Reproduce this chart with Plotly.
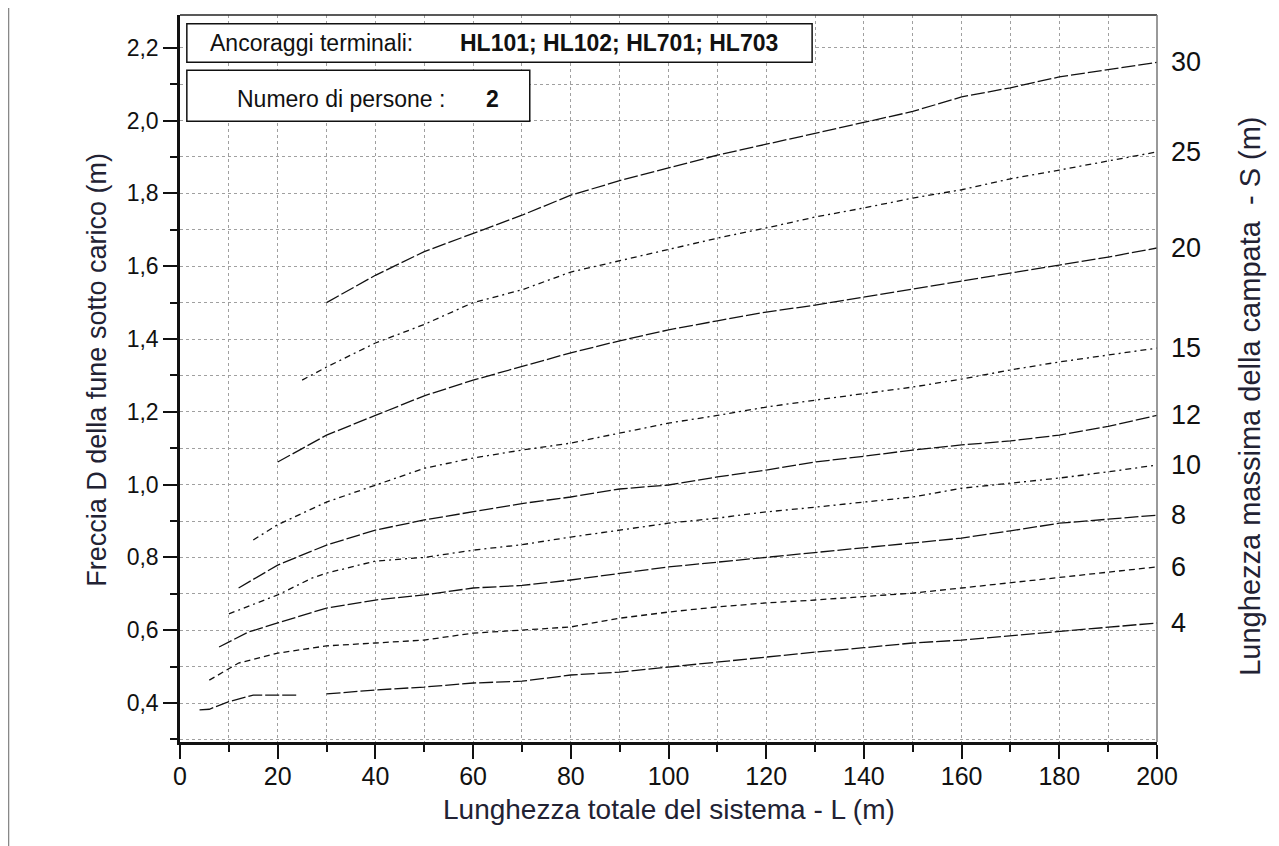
import plotly.graph_objects as go

# ---- data ----
L_4 = [4, 6, 10, 15, 20, 24, 27, 30, 40, 50, 60, 70, 80, 90, 100, 110, 120, 130, 140, 150, 160, 170, 180, 190, 200]
D_4 = [0.381, 0.383, 0.404, 0.422, 0.422, 0.422, None, 0.425, 0.436, 0.444, 0.455, 0.460, 0.477, 0.485, 0.499,
       0.513, 0.526, 0.540, 0.552, 0.565, 0.573, 0.585, 0.595, 0.607, 0.620]

L_6 = [6, 12, 20, 30, 40, 50, 60, 70, 80, 90, 100, 110, 120, 130, 140, 150, 160, 170, 180, 190, 200]
D_6 = [0.463, 0.510, 0.537, 0.557, 0.565, 0.573, 0.592, 0.600, 0.609, 0.633, 0.650, 0.664, 0.675, 0.683,
       0.692, 0.702, 0.716, 0.730, 0.746, 0.760, 0.774]

L_8 = [8, 14, 20, 30, 40, 50, 60, 70, 80, 90, 100, 110, 120, 130, 140, 150, 160, 170, 180, 190, 200]
D_8 = [0.554, 0.595, 0.620, 0.661, 0.683, 0.697, 0.716, 0.723, 0.738, 0.757, 0.774, 0.787, 0.800, 0.812,
       0.826, 0.840, 0.853, 0.873, 0.894, 0.905, 0.916]

L_10 = [10, 20, 27, 30, 40, 50, 60, 70, 80, 90, 100, 110, 120, 130, 140, 150, 160, 170, 180, 190, 200]
D_10 = [0.645, 0.697, 0.743, 0.757, 0.790, 0.800, 0.820, 0.835, 0.856, 0.875, 0.894, 0.908, 0.925, 0.938,
        0.952, 0.966, 0.990, 1.003, 1.018, 1.035, 1.054]

L_12 = [12, 20, 30, 40, 50, 60, 70, 80, 90, 100, 110, 120, 130, 140, 150, 160, 170, 180, 190, 200]
D_12 = [0.716, 0.779, 0.834, 0.875, 0.903, 0.925, 0.948, 0.966, 0.988, 0.999, 1.021, 1.040, 1.062, 1.078,
        1.095, 1.109, 1.120, 1.136, 1.160, 1.190]

L_15 = [15, 20, 30, 40, 50, 60, 70, 80, 90, 100, 110, 120, 130, 140, 150, 160, 170, 180, 190, 200]
D_15 = [0.848, 0.890, 0.952, 0.998, 1.045, 1.073, 1.095, 1.114, 1.142, 1.169, 1.190, 1.213, 1.232, 1.250,
        1.268, 1.290, 1.315, 1.337, 1.355, 1.375]

L_20 = [20, 30, 40, 50, 60, 70, 80, 90, 100, 110, 120, 130, 140, 150, 160, 170, 180, 190, 200]
D_20 = [1.062, 1.136, 1.190, 1.244, 1.287, 1.325, 1.362, 1.395, 1.425, 1.450, 1.474, 1.493, 1.515, 1.535,
        1.557, 1.580, 1.603, 1.625, 1.650]

L_25 = [25, 30, 40, 50, 60, 70, 80, 90, 100, 110, 120, 130, 140, 150, 160, 170, 180, 190, 200]
D_25 = [1.287, 1.323, 1.389, 1.440, 1.500, 1.535, 1.584, 1.615, 1.644, 1.677, 1.705, 1.735, 1.760, 1.787,
        1.810, 1.840, 1.864, 1.890, 1.914]

L_30 = [30, 40, 50, 60, 70, 80, 90, 100, 110, 120, 130, 140, 150, 160, 170, 180, 190, 200]
D_30 = [1.500, 1.575, 1.640, 1.690, 1.740, 1.795, 1.835, 1.870, 1.905, 1.935, 1.965, 1.995, 2.025, 2.065,
        2.090, 2.120, 2.140, 2.160]

S_labels = ["4", "6", "8", "10", "12", "15", "20", "25", "30"]
series_L = [L_4, L_6, L_8, L_10, L_12, L_15, L_20, L_25, L_30]
series_D = [D_4, D_6, D_8, D_10, D_12, D_15, D_20, D_25, D_30]

x_title = "Lunghezza totale del sistema - L (m)"
y_title = "Freccia D della fune sotto carico (m)"
y2_title = "Lunghezza massima della campata  - S (m)"
box1_label = "Ancoraggi terminali:"
box1_value = "HL101; HL102; HL701; HL703"
box2_label = "Numero di persone :"
box2_value = "2"

# ---- styles ----
LONG = "14px,3px"
DASHDOT = "6px,4px,2px,4px"
dash_styles = [LONG, "6px,4px", LONG, DASHDOT, LONG, DASHDOT, LONG, DASHDOT, LONG]
FONT = "Liberation Sans, Arial, sans-serif"
GRID = "#a0a0a0"

fig = go.Figure()
for lab, xs, ys, dsh in zip(S_labels, series_L, series_D, dash_styles):
    fig.add_trace(go.Scatter(x=xs, y=ys, mode="lines", name="S=" + lab,
                             line=dict(color="#111111", width=1.3, dash=dsh),
                             connectgaps=False, showlegend=False))

# right-side S labels placed at each curve's end value
annotations = []
for lab, ys in zip(S_labels, series_D):
    annotations.append(dict(x=1, xref="paper", y=ys[-1], yref="y", text=lab, showarrow=False,
                            xanchor="left", yanchor="middle", xshift=12,
                            font=dict(family=FONT, size=27, color="#111111")))

annotations += [
    dict(x=0.5, xref="paper", y=-0.0935, yref="paper", text=x_title, showarrow=False,
         xanchor="center", yanchor="middle", font=dict(family=FONT, size=28, color="#222233")),
    dict(x=-0.085, xref="paper", y=0.512, yref="paper", text=y_title, showarrow=False, textangle=-90,
         xanchor="center", yanchor="middle", font=dict(family=FONT, size=27, color="#222233")),
    dict(x=1.095, xref="paper", y=0.476, yref="paper", text=y2_title, showarrow=False, textangle=-90,
         xanchor="center", yanchor="middle", font=dict(family=FONT, size=29, color="#222233")),
    dict(x=0.0287, xref="paper", y=0.9615, yref="paper", text=box1_label, showarrow=False,
         xanchor="left", yanchor="middle", font=dict(family=FONT, size=23, color="#111111")),
    dict(x=0.2845, xref="paper", y=0.9615, yref="paper", text="<b>" + box1_value + "</b>", showarrow=False,
         xanchor="left", yanchor="middle", font=dict(family=FONT, size=23, color="#111111")),
    dict(x=0.0563, xref="paper", y=0.884, yref="paper", text=box2_label, showarrow=False,
         xanchor="left", yanchor="middle", font=dict(family=FONT, size=23, color="#111111")),
    dict(x=0.320, xref="paper", y=0.884, yref="paper", text="<b>" + box2_value + "</b>", showarrow=False,
         xanchor="center", yanchor="middle", font=dict(family=FONT, size=23, color="#111111")),
]

shapes = [
    # legend-like boxes
    dict(type="rect", xref="paper", yref="paper", x0=0.007, x1=0.647, y0=0.935, y1=0.988,
         line=dict(color="#111111", width=1.5), fillcolor="white", layer="above"),
    dict(type="rect", xref="paper", yref="paper", x0=0.007, x1=0.358, y0=0.854, y1=0.924,
         line=dict(color="#111111", width=1.5), fillcolor="white", layer="above"),
    # top and right frame
    dict(type="line", xref="paper", yref="paper", x0=0, x1=1, y0=1, y1=1,
         line=dict(color="#222222", width=1.5)),
    dict(type="line", xref="paper", yref="paper", x0=1, x1=1, y0=0, y1=1,
         line=dict(color="#777777", width=1.5)),
    # page border on the left edge
    dict(type="line", xref="paper", yref="paper", x0=-0.1755, x1=-0.1755, y0=-0.2, y1=1.1,
         line=dict(color="#888888", width=1.5)),
]

fig.update_layout(
    width=1271, height=838,
    margin=dict(l=172, r=122, t=7, b=104),
    paper_bgcolor="white", plot_bgcolor="white",
    separators=",.",
    annotations=annotations,
    shapes=shapes,
    xaxis=dict(range=[0, 200], dtick=20, tick0=0, tickformat="d",
               showline=True, linecolor="#111111", linewidth=2.5,
               ticks="outside", ticklen=14, tickwidth=2, tickcolor="#111111",
               ticklabelstandoff=-4,
               showgrid=True, gridcolor=GRID, gridwidth=1, griddash="dot",
               minor=dict(dtick=10, ticks="outside", ticklen=7, tickwidth=2, tickcolor="#111111",
                          showgrid=True, gridcolor=GRID, gridwidth=1, griddash="dot"),
               tickfont=dict(family=FONT, size=25, color="#111111"),
               zeroline=False),
    yaxis=dict(range=[0.293, 2.29], dtick=0.2, tick0=0.4, tickformat=".1f",
               showline=True, linecolor="#111111", linewidth=2.5,
               ticks="outside", ticklen=14, tickwidth=2, tickcolor="#111111",
               showgrid=True, gridcolor=GRID, gridwidth=1, griddash="dot",
               minor=dict(dtick=0.1, tick0=0.3, ticks="outside", ticklen=7, tickwidth=2, tickcolor="#111111",
                          showgrid=True, gridcolor=GRID, gridwidth=1, griddash="dot"),
               tickfont=dict(family=FONT, size=23, color="#111111"),
               zeroline=False),
)

fig.write_html("out.html")
